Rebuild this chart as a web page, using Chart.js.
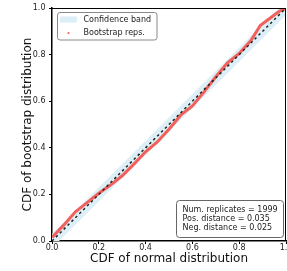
<!DOCTYPE html>
<html>
<head>
<meta charset="utf-8">
<script src="https://cdn.jsdelivr.net/npm/chart.js@4"></script>
<style>
html,body{margin:0;padding:0;background:#fff;}
canvas{display:block;}
</style>
</head>
<body>
<canvas id="c" width="287" height="271"></canvas>
<script>
// ---- data ----
const normalCdf    = [0, 0.05, 0.1, 0.15, 0.2, 0.25, 0.3, 0.35, 0.4, 0.45, 0.5, 0.55, 0.6, 0.65, 0.7, 0.75, 0.8, 0.85, 0.89, 0.93, 0.97, 1];
const bootstrapCdf = [0.015, 0.068, 0.125, 0.165, 0.205, 0.24, 0.28, 0.33, 0.383, 0.425, 0.48, 0.54, 0.58, 0.64, 0.705, 0.765, 0.805, 0.86, 0.925, 0.955, 0.985, 1];
const bandX        = [0, 0.03, 0.97, 1];
const bandUpper    = [0.03, 0.06, 1, 1];
const bandLower    = [0, 0, 0.94, 0.97];
const diagX        = [0, 1];
const diagY        = [0, 1];
const tickValues   = [0, 0.2, 0.4, 0.6, 0.8, 1.0];
const legendLabels = ['Confidence band', 'Bootstrap reps.'];
const statsLines   = ['Num. replicates = 1999', 'Pos. distance = 0.035', 'Neg. distance = 0.025'];

const FONT = "'DejaVu Sans', sans-serif";
const BAND = 'rgb(220,238,246)';
const RED = '#f2605c';
const zip = (xs, ys) => xs.map((x, i) => ({x: x, y: ys[i]}));

const overlay = {
  id: 'overlay',
  afterDraw(chart) {
    const ctx = chart.ctx, a = chart.chartArea;
    ctx.save();
    // top & right spines
    ctx.strokeStyle = '#000';
    ctx.lineWidth = 1;
    ctx.beginPath();
    ctx.moveTo(a.left, a.top + 0.5); ctx.lineTo(a.right, a.top + 0.5);
    ctx.moveTo(a.right - 0.5, a.top); ctx.lineTo(a.right - 0.5, a.bottom);
    ctx.stroke();

    function rrect(x, y, w, h, r) {
      ctx.beginPath();
      ctx.moveTo(x + r, y);
      ctx.lineTo(x + w - r, y); ctx.quadraticCurveTo(x + w, y, x + w, y + r);
      ctx.lineTo(x + w, y + h - r); ctx.quadraticCurveTo(x + w, y + h, x + w - r, y + h);
      ctx.lineTo(x + r, y + h); ctx.quadraticCurveTo(x, y + h, x, y + h - r);
      ctx.lineTo(x, y + r); ctx.quadraticCurveTo(x, y, x + r, y);
      ctx.closePath();
    }
    // legend
    rrect(57.5, 12.5, 99.5, 27.5, 2.5);
    ctx.fillStyle = 'rgba(255,255,255,0.85)';
    ctx.fill();
    ctx.strokeStyle = '#8a8a8a';
    ctx.lineWidth = 1;
    ctx.stroke();
    ctx.fillStyle = BAND;
    ctx.fillRect(60, 16.5, 17, 6);
    ctx.fillStyle = RED;
    ctx.beginPath(); ctx.arc(68.5, 33, 1.1, 0, Math.PI * 2); ctx.fill();
    ctx.fillStyle = '#222';
    ctx.font = '8px ' + FONT;
    ctx.textBaseline = 'middle';
    ctx.textAlign = 'left';
    ctx.fillText(legendLabels[0], 83.5, 19.5);
    ctx.fillText(legendLabels[1], 83.5, 33);

    // stats box
    rrect(176.5, 200.5, 107, 37, 3);
    ctx.fillStyle = '#fff';
    ctx.fill();
    ctx.strokeStyle = '#666';
    ctx.stroke();
    ctx.fillStyle = '#222';
    statsLines.forEach((t, i) => ctx.fillText(t, 182.5, 209.5 + i * 9));
    ctx.restore();
  }
};

new Chart(document.getElementById('c'), {
  type: 'scatter',
  data: {
    datasets: [
      {data: zip(bandX, bandUpper), showLine: true, pointRadius: 0, borderWidth: 0, borderColor: 'rgba(0,0,0,0)', backgroundColor: BAND, fill: '+1', order: 4},
      {data: zip(bandX, bandLower), showLine: true, pointRadius: 0, borderWidth: 0, borderColor: 'rgba(0,0,0,0)', fill: false, order: 4},
      {data: zip(normalCdf, bootstrapCdf), showLine: true, pointRadius: 0, borderWidth: 3, borderColor: RED, fill: false, order: 2},
      {data: zip(diagX, diagY), showLine: true, pointRadius: 0, borderWidth: 1.5, borderColor: '#222', borderDash: [2.5, 3], fill: false, order: 1}
    ]
  },
  options: {
    responsive: false,
    animation: false,
    devicePixelRatio: 1,
    layout: {padding: {left: 0, right: 1, top: 8, bottom: 0}},
    plugins: {legend: {display: false}, tooltip: {enabled: false}},
    scales: {
      x: {
        type: 'linear', min: 0, max: 1,
        afterBuildTicks: s => { s.ticks = tickValues.map(v => ({value: v})); },
        afterFit: s => { s.height = 30; s.paddingLeft = 0; s.paddingRight = 0; },
        grid: {drawOnChartArea: false, drawTicks: true, tickLength: 3, color: '#000', lineWidth: 1},
        border: {display: true, color: '#000', width: 1.5},
        ticks: {padding: -1, color: '#222', font: {family: FONT, size: 8}, maxRotation: 0, autoSkip: false, callback: v => Number(v).toFixed(1)},
        title: {display: true, text: 'CDF of normal distribution', color: '#111', font: {family: FONT, size: 12}, padding: {top: 0, bottom: 5}}
      },
      y: {
        type: 'linear', min: 0, max: 1,
        afterBuildTicks: s => { s.ticks = tickValues.map(v => ({value: v})); },
        afterFit: s => { s.width = 52; s.paddingTop = 0; s.paddingBottom = 0; },
        grid: {drawOnChartArea: false, drawTicks: true, tickLength: 3, color: '#000', lineWidth: 1},
        border: {display: true, color: '#000', width: 1.5},
        ticks: {padding: 3.5, color: '#222', font: {family: FONT, size: 8}, autoSkip: false, callback: v => Number(v).toFixed(1)},
        title: {display: true, text: 'CDF of bootstrap distribution', color: '#111', font: {family: FONT, size: 12}, padding: {top: 20.5, bottom: 0}}
      }
    }
  },
  plugins: [overlay]
});
</script>
</body>
</html>
